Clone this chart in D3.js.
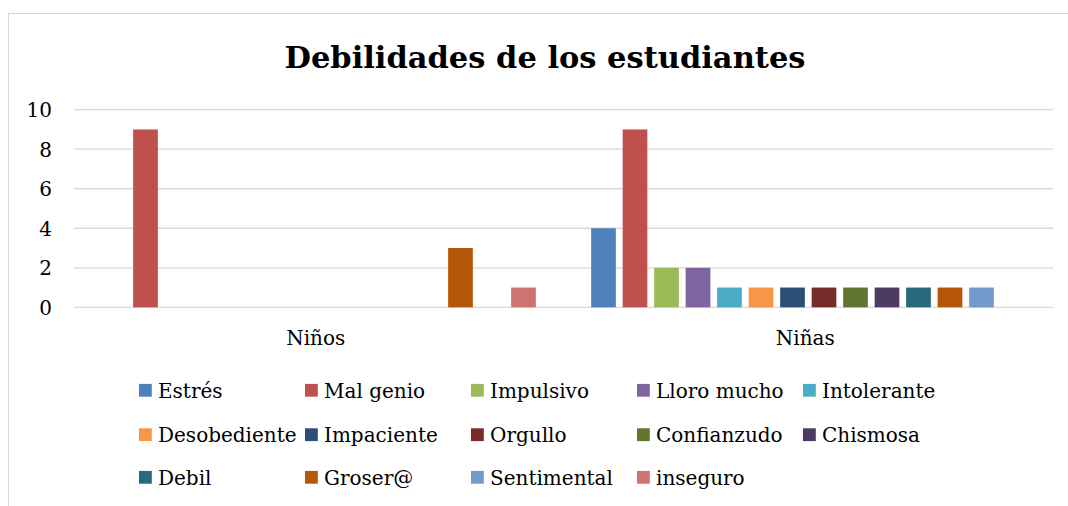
<!DOCTYPE html>
<html>
<head>
<meta charset="utf-8">
<script src="https://cdn.jsdelivr.net/npm/d3@7"></script>
<style>
  html, body { margin: 0; padding: 0; background: #fff; }
  svg { display: block; font-family: "DejaVu Serif", serif; }
</style>
</head>
<body>
<svg id="chart" width="1068" height="506"></svg>
<script>
const title = "Debilidades de los estudiantes";
const groups = ["Niños", "Niñas"];
const series = ["Estrés", "Mal genio", "Impulsivo", "Lloro mucho", "Intolerante",
  "Desobediente", "Impaciente", "Orgullo", "Confianzudo", "Chismosa",
  "Debil", "Groser@", "Sentimental", "inseguro"];
const colors = ["#4F81BD", "#C0504D", "#9BBB59", "#8064A2", "#4BACC6",
  "#F79646", "#2C4D75", "#772C2A", "#5F7530", "#4D3B62",
  "#276A7C", "#B65708", "#729ACA", "#CD7371"];
const valuesNinos = [0, 9, 0, 0, 0, 0, 0, 0, 0, 0, 0, 3, 0, 1];
const valuesNinas = [4, 9, 2, 2, 1, 1, 1, 1, 1, 1, 1, 1, 1, 0];
const yTicks = [0, 2, 4, 6, 8, 10];

const values = [valuesNinos, valuesNinas];

const svg = d3.select("#chart");

// outer chart border
svg.append("rect")
  .attr("x", 8.5).attr("y", 13.5)
  .attr("width", 1080).attr("height", 520)
  .attr("fill", "none").attr("stroke", "#d9d9d9").attr("stroke-width", 1);

const plotLeft = 74, plotRight = 1053, plotTop = 109.7, plotBottom = 307.3;

const y = d3.scaleLinear().domain([0, 10]).range([plotBottom, plotTop]);
const x0 = d3.scaleBand().domain(groups).range([plotLeft, plotRight]);
const x1 = d3.scaleBand().domain(series).range([0, x0.bandwidth()])
  .paddingInner(0.216).paddingOuter(0.878);
const color = d3.scaleOrdinal().domain(series).range(colors);

// gridlines
svg.append("g")
  .selectAll("line").data(yTicks).join("line")
  .attr("x1", plotLeft).attr("x2", plotRight)
  .attr("y1", d => y(d)).attr("y2", d => y(d))
  .attr("stroke", "#d9d9d9").attr("stroke-width", 1.3);

// y axis labels
const yAxis = d3.axisLeft(y).tickValues(yTicks).tickSize(0).tickPadding(0);
const gy = svg.append("g").attr("transform", `translate(52,0)`).call(yAxis);
gy.select(".domain").remove();
gy.selectAll("text")
  .attr("font-family", "DejaVu Serif").attr("font-size", 20)
  .attr("fill", "#000").attr("dy", "0.36em");

// bars
const gGroups = svg.append("g").selectAll("g").data(groups).join("g")
  .attr("transform", d => `translate(${x0(d)},0)`);
gGroups.selectAll("rect")
  .data((g, gi) => series.map((s, si) => ({ s, v: values[gi][si] })).filter(d => d.v > 0))
  .join("rect")
  .attr("x", d => x1(d.s))
  .attr("width", x1.bandwidth())
  .attr("y", d => y(d.v))
  .attr("height", d => y(0) - y(d.v))
  .attr("fill", d => color(d.s));

// category axis labels
const xAxis = d3.axisBottom(x0).tickSize(0).tickPadding(0);
const gx = svg.append("g").attr("transform", `translate(-3,345)`).call(xAxis);
gx.select(".domain").remove();
gx.selectAll("text")
  .attr("font-family", "DejaVu Serif").attr("font-size", 20)
  .attr("fill", "#000").attr("dy", 0);

// title
svg.append("text")
  .attr("x", 545).attr("y", 68)
  .attr("text-anchor", "middle")
  .attr("font-family", "DejaVu Serif").attr("font-weight", "bold")
  .attr("font-size", 30.5).attr("fill", "#000")
  .text(title);

// legend
const legX = 139, legColW = 166, legRowY = [390.3, 434.7, 477.3];
const leg = svg.append("g").selectAll("g").data(series).join("g")
  .attr("transform", (d, i) => `translate(${legX + (i % 5) * legColW},${legRowY[Math.floor(i / 5)]})`);
leg.append("rect")
  .attr("x", 0).attr("y", -6.4).attr("width", 12.8).attr("height", 12.8)
  .attr("fill", d => color(d));
leg.append("text")
  .attr("x", 19).attr("y", 0).attr("dy", "0.36em")
  .attr("font-family", "DejaVu Serif").attr("font-size", 20)
  .attr("fill", "#000")
  .text(d => d);
</script>
</body>
</html>
